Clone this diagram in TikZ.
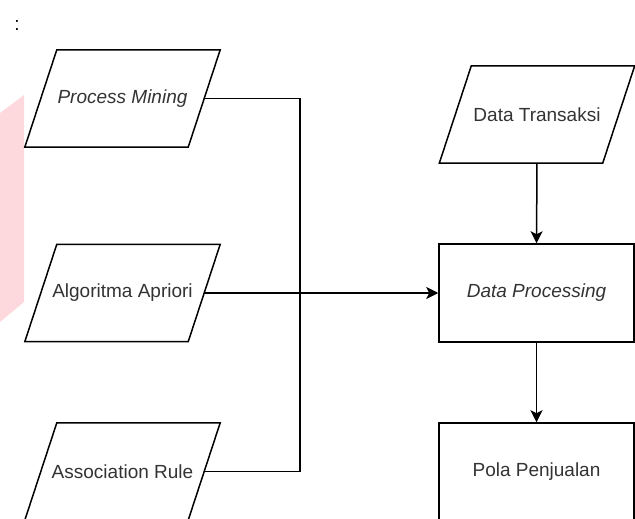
\documentclass[tikz,border=0pt]{standalone}
\usepackage{fontspec}
\setmainfont{Liberation Sans}
\usetikzlibrary{arrows.meta}
\definecolor{pinkbg}{RGB}{253,216,220}
\definecolor{txt}{RGB}{51,51,51}
\tikzset{
  line/.style={line width=1.5pt, draw=black},
  arr/.style={line, -{Stealth[length=12pt,width=12pt,inset=3pt]}},
  para/.style={minimum width=163pt, minimum height=97pt, inner sep=0pt, text=txt, font=\fontsize{19}{22}\selectfont},
  box/.style={line, minimum width=195pt, minimum height=98pt, inner sep=0pt, text=txt, font=\fontsize{19}{22}\selectfont},
}
\begin{document}
\begin{tikzpicture}[x=1pt, y=-1pt]
\useasboundingbox (0,0) rectangle (635,519);
\clip (0,0) rectangle (635,519);
% pink watermark fragment
\fill[pinkbg] (0,113) -- (24,95) -- (24,302) -- (0,322) -- cycle;
% colon
\node[font=\fontsize{19}{22}\selectfont] (colon) at (17,25) {:};
% input parallelograms
\node[para] (pm) at (122.5,98.5) {\itshape Process Mining};
\node[para] (aa) at (122.5,293) {Algoritma Apriori};
\node[para] (ar) at (122.5,471.5) {Association Rule};
\node[para] (dt) at (537,114.5) {Data Transaksi};
\foreach \n in {pm,aa,ar,dt}
  \draw[line] ([xshift=16pt]\n.north west) -- ([xshift=16pt]\n.north east)
    -- ([xshift=-16pt]\n.south east) -- ([xshift=-16pt]\n.south west) -- cycle;
% process boxes
\node[box] (dp) at (536.5,293) {\itshape Data Processing};
\node[box] (pp) at (536.5,472) {Pola Penjualan};
% connectors
\draw[line] (pm.east) -| ([xshift=96pt]ar.east) -- (ar.east);
\draw[arr] (aa.east) -- (dp.west);
\draw[arr] (dt.south) -- (dp.north);
\draw[arr] (dp.south) -- (pp.north);
\end{tikzpicture}
\end{document}
